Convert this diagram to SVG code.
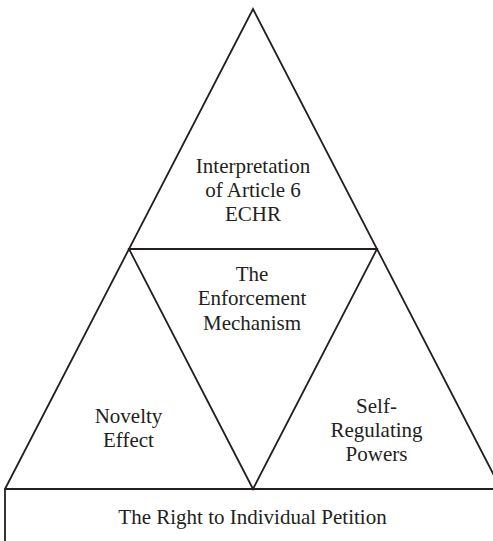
<svg xmlns="http://www.w3.org/2000/svg" width="493" height="541" viewBox="0 0 493 541">
<style>
.l{fill:none;stroke:#231f20;stroke-width:1.8;stroke-linejoin:miter}
text{font-family:"Liberation Serif","Times New Roman",serif;font-size:21px;fill:#231f20;text-anchor:middle}
</style>
<rect width="493" height="541" fill="#fff"/>
<g id="connectors">
<path class="l" d="M5,489 L253,9 L501,489"/>
<path class="l" d="M129,249 L377,249 L253,489 Z"/>
</g>
<g id="top"><text x="253" y="173">Interpretation</text><text x="253" y="197">of Article 6</text><text x="253" y="221">ECHR</text></g>
<g id="center"><text x="252" y="281">The</text><text x="252" y="305">Enforcement</text><text x="252" y="330">Mechanism</text></g>
<g id="left"><text x="128.5" y="423">Novelty</text><text x="128.5" y="447">Effect</text></g>
<g id="right"><text x="376.5" y="413">Self-</text><text x="376.5" y="437">Regulating</text><text x="376.5" y="461">Powers</text></g>
<g id="base"><path class="l" d="M5,545 L5,489 L500,489"/><text x="252.5" y="524">The Right to Individual Petition</text></g>
</svg>
